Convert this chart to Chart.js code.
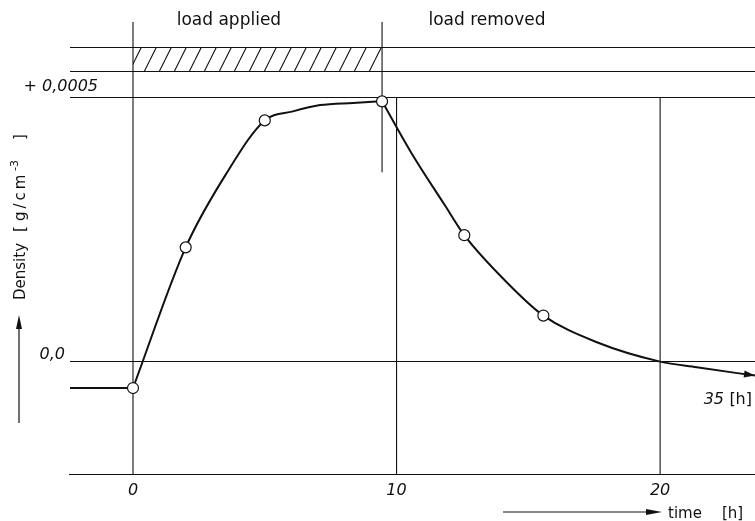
<!DOCTYPE html>
<html>
<head>
<meta charset="utf-8">
<script src="https://cdn.jsdelivr.net/npm/chart.js@4.4.1/dist/chart.umd.min.js"></script>
<style>
  html, body { margin: 0; padding: 0; background: #fff; }
</style>
</head>
<body>
<canvas id="densityChart" width="755" height="521"></canvas>
<script>
// measured points (circles)
const hours   = [0, 2, 5, 9.45, 12.57, 15.57];
const density = [-0.00005, 0.000216, 0.000456, 0.000492, 0.000239, 0.000087];

// curve
const riseHours   = [0, 2, 3.5, 5, 6.07, 7.1, 8.35, 9.45];
const riseDensity = [-0.00005, 0.000216, 0.000352, 0.000456, 0.000473, 0.000485, 0.000489, 0.000492];
const fallHours   = [9.45, 10.58, 11.84, 12.57, 14.24, 15.57, 17.6, 20, 21.39, 23.6];
const fallDensity = [0.000492, 0.000393, 0.000295, 0.000239, 0.000147, 0.000087,
                     0.0000366, 0, -0.0000108, -0.0000265];

// level before the load
const startHours   = [-2.39, 0];
const startDensity = [-0.00005, -0.00005];

// axes
const xMin = -2.39, xMax = 23.6;
const yMin = -0.000214, yMax = 0.000642;
const xTicks = [0, 10, 20];
const xTickLabels = ['0', '10', '20'];
const yLines = [yMin, 0, 0.0005, 0.000548, 0.000593];

// load period band and vertical guide lines
const loadStart = 0, loadEnd = 9.45;
const bandLow = 0.000548, bandHigh = 0.000593;
const vLineX    = [0, 9.45, 10, 20];
const vLineFrom = [yMin, 0.000358, yMin, yMin];
const vLineTo   = [yMax, yMax, 0.0005, 0.0005];

const ink = '#111';

const toPts = (xs, ys) => xs.map((v, i) => ({x: v, y: ys[i]}));

function hatchPattern() {
  const c = document.createElement('canvas');
  c.width = 15; c.height = 30;
  const g = c.getContext('2d');
  g.strokeStyle = ink;
  g.lineWidth = 1.1;
  g.beginPath();
  for (const o of [-15, 0, 15]) { g.moveTo(o, 30); g.lineTo(o + 15, 0); }
  g.stroke();
  return g.createPattern(c, 'repeat');
}

function arrowHead(ctx, tx, ty, angle, len, half) {
  ctx.save();
  ctx.translate(tx, ty);
  ctx.rotate(angle);
  ctx.beginPath();
  ctx.moveTo(0, 0);
  ctx.lineTo(-len, -half);
  ctx.lineTo(-len, half);
  ctx.closePath();
  ctx.fill();
  ctx.restore();
}

const textPlugin = {
  id: 'texts',
  afterDraw(chart) {
    const {ctx, scales: {x, y}} = chart;
    ctx.save();
    ctx.fillStyle = ink;
    ctx.strokeStyle = ink;

    // period labels
    ctx.font = '17px "DejaVu Sans"';
    ctx.textAlign = 'center';
    ctx.textBaseline = 'alphabetic';
    ctx.fillText('load applied', x.getPixelForValue(3.64), 25);
    ctx.fillText('load removed', x.getPixelForValue(13.43), 25);

    // y values above their lines
    ctx.font = 'italic 16px "DejaVu Sans"';
    ctx.textAlign = 'right';
    ctx.fillText('+ 0,0005', 98, y.getPixelForValue(0.0005) - 6);
    ctx.fillText('0,0', 65, y.getPixelForValue(0) - 3);

    // end of the curve
    const n = fallHours.length;
    const tx = x.getPixelForValue(fallHours[n - 1]), ty = y.getPixelForValue(fallDensity[n - 1]);
    const px = x.getPixelForValue(fallHours[n - 2]), py = y.getPixelForValue(fallDensity[n - 2]);
    arrowHead(ctx, tx, ty, Math.atan2(ty - py, tx - px), 11, 3.5);
    ctx.font = '16px "DejaVu Sans"';
    ctx.fillText('[h]', 752, 404);
    ctx.font = 'italic 16px "DejaVu Sans"';
    ctx.fillText('35', 724, 404);

    // x title
    ctx.lineWidth = 1.2;
    ctx.beginPath(); ctx.moveTo(503, 512); ctx.lineTo(650, 512); ctx.stroke();
    arrowHead(ctx, 662, 512, 0, 16, 3);
    ctx.font = '15px "DejaVu Sans"';
    ctx.textAlign = 'left';
    ctx.fillText('time', 668, 518);
    ctx.fillText('[h]', 722, 518);

    // y title
    ctx.beginPath(); ctx.moveTo(19, 423); ctx.lineTo(19, 325); ctx.stroke();
    arrowHead(ctx, 19, 315, -Math.PI / 2, 14, 3);
    ctx.translate(25, 300);
    ctx.rotate(-Math.PI / 2);
    ctx.font = '15px "DejaVu Sans"';
    ctx.fillText('Density', 0, 0);
    ctx.fillText('[', 68, 0);
    ctx.letterSpacing = '3px';
    ctx.fillText('g/cm', 79, 0);
    ctx.letterSpacing = '0px';
    ctx.font = '11px "DejaVu Sans"';
    ctx.fillText('-3', 129, -7);
    ctx.font = '15px "DejaVu Sans"';
    ctx.fillText(']', 160, 0);
    ctx.restore();
  }
};

const guideSets = vLineX.map((v, i) => ({
  data: [{x: v, y: vLineFrom[i]}, {x: v, y: vLineTo[i]}],
  showLine: true, borderColor: ink, borderWidth: 1.1, pointRadius: 0, fill: false
}));

new Chart(document.getElementById('densityChart'), {
  type: 'scatter',
  data: {
    datasets: [
      {
        data: toPts(hours, density),
        pointRadius: 5.5, pointBackgroundColor: '#fff', pointBorderColor: ink, pointBorderWidth: 1.2
      },
      {
        data: toPts(riseHours, riseDensity), showLine: true, cubicInterpolationMode: 'monotone',
        borderColor: ink, borderWidth: 2, pointRadius: 0
      },
      {
        data: toPts(fallHours, fallDensity), showLine: true, cubicInterpolationMode: 'monotone',
        borderColor: ink, borderWidth: 2, pointRadius: 0
      },
      {
        data: toPts(startHours, startDensity), showLine: true,
        borderColor: ink, borderWidth: 2, pointRadius: 0
      },
      ...guideSets,
      {
        data: [{x: loadStart, y: bandHigh}, {x: loadEnd, y: bandHigh}], showLine: true,
        borderColor: 'transparent', pointRadius: 0, fill: '+1', backgroundColor: hatchPattern()
      },
      {
        data: [{x: loadStart, y: bandLow}, {x: loadEnd, y: bandLow}], showLine: true,
        borderColor: 'transparent', pointRadius: 0, fill: false
      }
    ]
  },
  options: {
    responsive: false,
    animation: false,
    layout: { autoPadding: false, padding: { left: 70, right: 0, top: 22, bottom: 15 } },
    plugins: { legend: { display: false }, tooltip: { enabled: false } },
    scales: {
      x: {
        type: 'linear', min: xMin, max: xMax,
        afterBuildTicks: s => { s.ticks = xTicks.map(v => ({value: v})); },
        grid: { display: false, drawTicks: false },
        border: { display: true, color: ink, width: 1.1 },
        ticks: {
          callback: (v, i) => xTickLabels[i],
          font: { family: 'DejaVu Sans', size: 16, style: 'italic' },
          color: ink, padding: 6, maxRotation: 0, autoSkip: false
        }
      },
      y: {
        min: yMin, max: yMax,
        afterBuildTicks: s => { s.ticks = yLines.map(v => ({value: v})); },
        grid: { color: ink, lineWidth: 1.1, drawTicks: false },
        border: { display: false },
        ticks: { display: false }
      }
    }
  },
  plugins: [textPlugin]
});
</script>
</body>
</html>
